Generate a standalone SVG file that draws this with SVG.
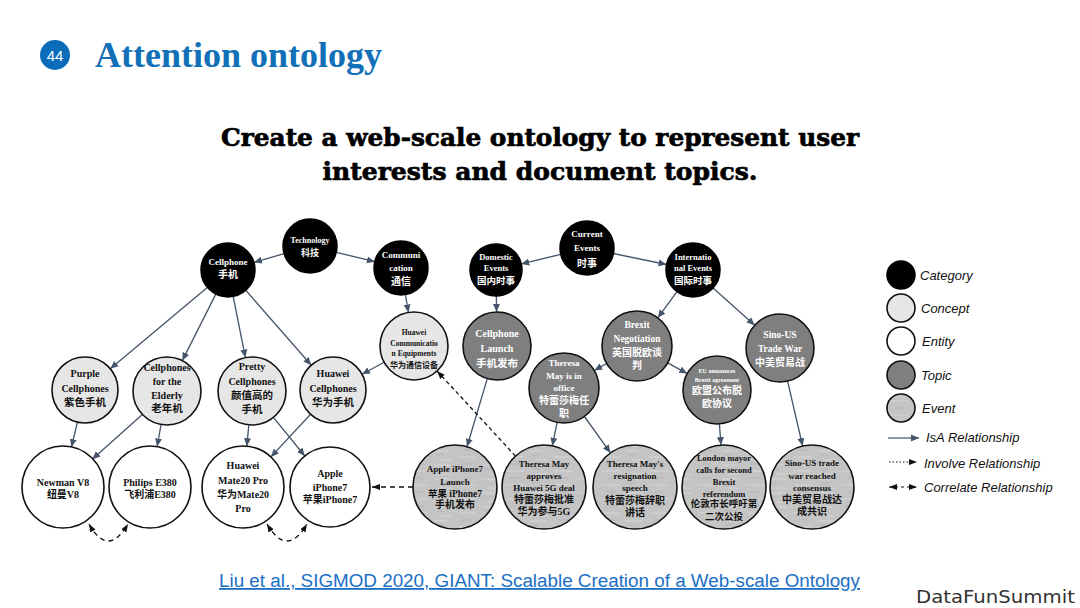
<svg xmlns="http://www.w3.org/2000/svg" width="1080" height="608" viewBox="0 0 1080 608">
<style>
.t{font-family:"Liberation Serif","Noto Sans CJK SC",serif;font-weight:bold;text-anchor:middle}
.w{fill:#fff}
.k{fill:#111}
.cat{fill:#000;stroke:#000;stroke-width:1.5}
.con{fill:#e6e6e6;stroke:#111;stroke-width:1.6}
.ent{fill:#fff;stroke:#111;stroke-width:1.6}
.top{fill:#7f7f7f;stroke:#111;stroke-width:1.6}
.evt{fill:url(#grain);stroke:#111;stroke-width:1.6}
.isa{stroke:#44546a;stroke-width:1.3;fill:none;marker-end:url(#ah)}
.inv{stroke:#111;stroke-width:1.3;fill:none;stroke-dasharray:4 3;marker-end:url(#dh)}
.cor{stroke:#111;stroke-width:1.3;fill:none;stroke-dasharray:5 4;marker-end:url(#dh)}
.cor2{stroke:#111;stroke-width:1.3;fill:none;stroke-dasharray:5 4;marker-start:url(#dhs);marker-end:url(#dh)}
.lg{font-family:"Liberation Sans",Arial,sans-serif;font-style:italic;font-size:13px;fill:#111}
.sub{font-family:"DejaVu Serif",serif;font-weight:bold;font-size:25px;fill:#000;stroke:#000;stroke-width:0.7;text-anchor:middle}
</style>
<defs>
<marker id="ah" markerUnits="userSpaceOnUse" markerWidth="9" markerHeight="8" refX="8" refY="4" orient="auto"><path d="M0,0.5 L8,4 L0,7.5 Z" fill="#44546a"/></marker>
<marker id="dh" markerUnits="userSpaceOnUse" markerWidth="9" markerHeight="8" refX="8" refY="4" orient="auto"><path d="M0,1 L8,4 L0,7 Z" fill="#111"/></marker>
<marker id="dhs" markerUnits="userSpaceOnUse" markerWidth="9" markerHeight="8" refX="8" refY="4" orient="auto-start-reverse"><path d="M0,1 L8,4 L0,7 Z" fill="#111"/></marker>
<pattern id="grain" patternUnits="userSpaceOnUse" width="48" height="14">
<rect width="48" height="14" fill="#c4c4c4"/>
<path d="M2,3 H18 M26,9 H44 M8,12 H20" stroke="#d6d6d6" stroke-width="1"/>
<path d="M30,2 H40 M4,7 H12" stroke="#b6b6b6" stroke-width="1"/>
</pattern>
</defs>
<rect width="1080" height="608" fill="#fff"/>
<g id="header">
<circle cx="55" cy="55" r="15" fill="#0b6dba"/>
<text x="55" y="60.5" font-family="Liberation Sans,Arial,sans-serif" font-size="15" fill="#fff" text-anchor="middle">44</text>
<text x="95" y="67" font-family="Liberation Serif,Times New Roman,serif" font-weight="bold" font-size="36" fill="#1170b8">Attention ontology</text>
<text class="sub" x="540" y="146" textLength="638" lengthAdjust="spacingAndGlyphs">Create a web-scale ontology to represent user</text>
<text class="sub" x="540" y="180" textLength="435" lengthAdjust="spacingAndGlyphs">interests and document topics.</text>
</g>
<g id="connectors">
<line class="isa" x1="284.1" y1="253.6" x2="253.9" y2="262.4"/>
<line class="isa" x1="336.2" y1="252.3" x2="374.8" y2="261.7"/>
<line class="isa" x1="207.3" y1="287.4" x2="110.3" y2="368.8"/>
<line class="isa" x1="215.8" y1="294.1" x2="182.3" y2="360.6"/>
<line class="isa" x1="233.2" y1="296.5" x2="245.4" y2="357.6"/>
<line class="isa" x1="245.8" y1="290.3" x2="311.3" y2="365.2"/>
<line class="isa" x1="405.4" y1="294.6" x2="408.4" y2="312.5"/>
<line class="isa" x1="384.1" y1="362.2" x2="362" y2="374.3"/>
<line class="isa" x1="77.4" y1="422.1" x2="71.5" y2="447.1"/>
<line class="isa" x1="142.9" y1="413.9" x2="92.3" y2="459.3"/>
<line class="isa" x1="161.1" y1="424.5" x2="157.1" y2="446.6"/>
<line class="isa" x1="248.8" y1="424.9" x2="246.8" y2="446.2"/>
<line class="isa" x1="273.4" y1="417.4" x2="304.8" y2="456"/>
<line class="isa" x1="310.6" y1="414.2" x2="270.9" y2="456.9"/>
<line class="isa" x1="560.8" y1="254.3" x2="521.3" y2="263.9"/>
<line class="isa" x1="613.4" y1="253.5" x2="666.6" y2="264.5"/>
<line class="isa" x1="496.3" y1="296" x2="496.6" y2="312"/>
<line class="isa" x1="677" y1="291.7" x2="657.8" y2="317.8"/>
<line class="isa" x1="713.1" y1="288" x2="754.7" y2="325.3"/>
<line class="isa" x1="606.7" y1="363.5" x2="594.3" y2="370.5"/>
<line class="isa" x1="667.7" y1="362.9" x2="687.2" y2="373.6"/>
<line class="isa" x1="487.3" y1="378.6" x2="467" y2="446.7"/>
<line class="isa" x1="557.1" y1="422.3" x2="552.3" y2="445.8"/>
<line class="isa" x1="584.4" y1="416.5" x2="610.5" y2="452.9"/>
<line class="isa" x1="719.4" y1="423.9" x2="721" y2="445.1"/>
<line class="isa" x1="787.6" y1="381.2" x2="802.6" y2="446"/>
<line class="inv" x1="515.5" y1="456.1" x2="437" y2="371"/>
<line class="cor" x1="413" y1="487" x2="372" y2="487"/>
<path class="cor2" d="M89,524 Q108,558 128,524"/>
<path class="cor2" d="M267,524 Q287,558 307,524"/>
</g>
<g id="n-technology"><circle class="cat" cx="310" cy="246" r="27"/><text class="t w" font-size="8"><tspan x="310" y="243">Technology</tspan><tspan x="310" y="255.5" font-size="9">科技</tspan></text></g>
<g id="n-cellphone"><circle class="cat" cx="228" cy="270" r="27"/><text class="t w" font-size="9"><tspan x="228" y="265">Cellphone</tspan><tspan x="228" y="278" font-size="10">手机</tspan></text></g>
<g id="n-communication"><circle class="cat" cx="401" cy="268" r="27"/><text class="t w" font-size="9"><tspan x="401" y="258">Communi</tspan><tspan x="401" y="271">cation</tspan><tspan x="401" y="284.5" font-size="10">通信</tspan></text></g>
<g id="n-current"><circle class="cat" cx="587" cy="248" r="27"/><text class="t w" font-size="9"><tspan x="587" y="237">Current</tspan><tspan x="587" y="251">Events</tspan><tspan x="587" y="266.5" font-size="10">时事</tspan></text></g>
<g id="n-domestic"><circle class="cat" cx="496" cy="270" r="26"/><text class="t w" font-size="8.5"><tspan x="496" y="260">Domestic</tspan><tspan x="496" y="271">Events</tspan><tspan x="496" y="283.5" font-size="9.5">国内时事</tspan></text></g>
<g id="n-international"><circle class="cat" cx="693" cy="270" r="27"/><text class="t w" font-size="8.5"><tspan x="693" y="260">Internatio</tspan><tspan x="693" y="271">nal Events</tspan><tspan x="693" y="283.5" font-size="9.5">国际时事</tspan></text></g>
<g id="n-purple"><circle class="con" cx="85" cy="390" r="33"/><text class="t k" font-size="10"><tspan x="85" y="376.5">Purple</tspan><tspan x="85" y="391.5">Cellphones</tspan><tspan x="85" y="406" font-size="10.5">紫色手机</tspan></text></g>
<g id="n-elderly"><circle class="con" cx="167" cy="391" r="34"/><text class="t k" font-size="10"><tspan x="167" y="370.5">Cellphones</tspan><tspan x="167" y="384.5">for the</tspan><tspan x="167" y="398.5">Elderly</tspan><tspan x="167" y="412" font-size="10.5">老年机</tspan></text></g>
<g id="n-pretty"><circle class="con" cx="252" cy="391" r="34"/><text class="t k" font-size="10"><tspan x="252" y="369.5">Pretty</tspan><tspan x="252" y="384.5">Cellphones</tspan><tspan x="252" y="399" font-size="10.5">颜值高的</tspan><tspan x="252" y="413" font-size="10.5">手机</tspan></text></g>
<g id="n-huaweicell"><circle class="con" cx="333" cy="390" r="33"/><text class="t k" font-size="10"><tspan x="333" y="376.5">Huawei</tspan><tspan x="333" y="391.5">Cellphones</tspan><tspan x="333" y="406" font-size="10.5">华为手机</tspan></text></g>
<g id="n-huaweicomm"><circle class="con" cx="414" cy="346" r="34"/><text class="t k" font-size="7.5"><tspan x="414" y="334.5">Huawei</tspan><tspan x="414" y="345.5">Communicatio</tspan><tspan x="414" y="356">n Equipments</tspan><tspan x="414" y="367.5" font-size="8">华为通信设备</tspan></text></g>
<g id="n-launch"><circle class="top" cx="497" cy="346" r="34"/><text class="t w" font-size="10"><tspan x="497" y="336.5">Cellphone</tspan><tspan x="497" y="351.5">Launch</tspan><tspan x="497" y="367" font-size="10.5">手机发布</tspan></text></g>
<g id="n-brexit"><circle class="top" cx="637" cy="346" r="35"/><text class="t w" font-size="9.5"><tspan x="637" y="327.5">Brexit</tspan><tspan x="637" y="341.5">Negotiation</tspan><tspan x="637" y="355.5" font-size="10">英国脱欧谈</tspan><tspan x="637" y="369" font-size="10">判</tspan></text></g>
<g id="n-theresa"><circle class="top" cx="564" cy="388" r="35"/><text class="t w" font-size="9"><tspan x="564" y="366">Theresa</tspan><tspan x="564" y="379">May is in</tspan><tspan x="564" y="391">office</tspan><tspan x="564" y="403.5" font-size="10">特蕾莎梅任</tspan><tspan x="564" y="416.5" font-size="10">职</tspan></text></g>
<g id="n-eu"><circle class="top" cx="717" cy="390" r="34"/><text class="t w" font-size="6"><tspan x="717" y="373">EU announces</tspan><tspan x="717" y="382">Brexit agreement</tspan><tspan x="717" y="394" font-size="10">欧盟公布脱</tspan><tspan x="717" y="407" font-size="10">欧协议</tspan></text></g>
<g id="n-tradewar"><circle class="top" cx="780" cy="348" r="34"/><text class="t w" font-size="9.5"><tspan x="780" y="337.5">Sino-US</tspan><tspan x="780" y="351.5">Trade War</tspan><tspan x="780" y="365.5" font-size="10">中美贸易战</tspan></text></g>
<g id="n-newman"><circle class="ent" cx="63" cy="487" r="41"/><text class="t k" font-size="10"><tspan x="63" y="485.5">Newman V8</tspan><tspan x="63" y="497.5">纽曼V8</tspan></text></g>
<g id="n-philips"><circle class="ent" cx="150" cy="487" r="41"/><text class="t k" font-size="10"><tspan x="150" y="485.5">Philips E380</tspan><tspan x="150" y="497.5">飞利浦E380</tspan></text></g>
<g id="n-mate20"><circle class="ent" cx="243" cy="487" r="41"/><text class="t k" font-size="10"><tspan x="243" y="468.5">Huawei</tspan><tspan x="243" y="483.5">Mate20 Pro</tspan><tspan x="243" y="497.5">华为Mate20</tspan><tspan x="243" y="511.5">Pro</tspan></text></g>
<g id="n-iphone7"><circle class="ent" cx="330" cy="487" r="40"/><text class="t k" font-size="10"><tspan x="330" y="476.5">Apple</tspan><tspan x="330" y="490.5">iPhone7</tspan><tspan x="330" y="502.5">苹果iPhone7</tspan></text></g>
<g id="n-iphonelaunch"><circle class="evt" cx="455" cy="487" r="42"/><text class="t k" font-size="9"><tspan x="455" y="472">Apple iPhone7</tspan><tspan x="455" y="485">Launch</tspan><tspan x="455" y="497" font-size="9.5">苹果 iPhone7</tspan><tspan x="455" y="508" font-size="10">手机发布</tspan></text></g>
<g id="n-approves"><circle class="evt" cx="544" cy="487" r="42"/><text class="t k" font-size="9"><tspan x="544" y="467">Theresa May</tspan><tspan x="544" y="479">approves</tspan><tspan x="544" y="491">Huawei 5G deal</tspan><tspan x="544" y="503" font-size="10">特蕾莎梅批准</tspan><tspan x="544" y="515" font-size="10">华为参与5G</tspan></text></g>
<g id="n-resignation"><circle class="evt" cx="635" cy="487" r="42"/><text class="t k" font-size="9"><tspan x="635" y="467">Theresa May's</tspan><tspan x="635" y="478.5">resignation</tspan><tspan x="635" y="490.5">speech</tspan><tspan x="635" y="503.5" font-size="10">特蕾莎梅辞职</tspan><tspan x="635" y="515.5" font-size="10">讲话</tspan></text></g>
<g id="n-london"><circle class="evt" cx="724" cy="487" r="42"/><text class="t k" font-size="8.5"><tspan x="724" y="461">London mayor</tspan><tspan x="724" y="473">calls for second</tspan><tspan x="724" y="485">Brexit</tspan><tspan x="724" y="496.5">referendum</tspan><tspan x="724" y="507" font-size="9.5">伦敦市长呼吁第</tspan><tspan x="724" y="520" font-size="9.5">二次公投</tspan></text></g>
<g id="n-consensus"><circle class="evt" cx="812" cy="487" r="42"/><text class="t k" font-size="9"><tspan x="812" y="466">Sino-US trade</tspan><tspan x="812" y="479">war reached</tspan><tspan x="812" y="490.5">consensus</tspan><tspan x="812" y="503" font-size="10">中美贸易战达</tspan><tspan x="812" y="515" font-size="10">成共识</tspan></text></g>
<g id="legend">
<circle class="cat" cx="901" cy="275" r="14"/>
<circle class="con" cx="901" cy="308" r="14"/>
<circle class="ent" cx="901" cy="341" r="14"/>
<circle class="top" cx="901" cy="375" r="14"/>
<circle class="evt" cx="901" cy="408" r="14"/>
<text class="lg" x="920" y="280">Category</text>
<text class="lg" x="921" y="313">Concept</text>
<text class="lg" x="922" y="346">Entity</text>
<text class="lg" x="921" y="380">Topic</text>
<text class="lg" x="922" y="413">Event</text>
<line x1="888" y1="438" x2="919" y2="438" stroke="#44546a" stroke-width="1.2" marker-end="url(#ah)"/>
<line x1="889" y1="462" x2="917" y2="462" stroke="#111" stroke-width="1.2" stroke-dasharray="1.5 2" marker-end="url(#dh)"/>
<line x1="889" y1="487" x2="917" y2="487" stroke="#111" stroke-width="1.2" stroke-dasharray="3 3" marker-start="url(#dhs)" marker-end="url(#dh)"/>
<text class="lg" x="926" y="442">IsA Relationship</text>
<text class="lg" x="924" y="468">Involve Relationship</text>
<text class="lg" x="924" y="492">Correlate Relationship</text>
</g>
<g id="footer">
<text x="219" y="587" font-family="Liberation Sans Narrow,Liberation Sans,Arial,sans-serif" font-size="18" fill="#1a6fc4" text-decoration="underline" textLength="641" lengthAdjust="spacingAndGlyphs">Liu et al., SIGMOD 2020, GIANT: Scalable Creation of a Web-scale Ontology</text>
<text x="916" y="603" font-family="DejaVu Sans,sans-serif" font-size="18" fill="#333" textLength="159" lengthAdjust="spacingAndGlyphs">DataFunSummit</text>
</g>
</svg>
